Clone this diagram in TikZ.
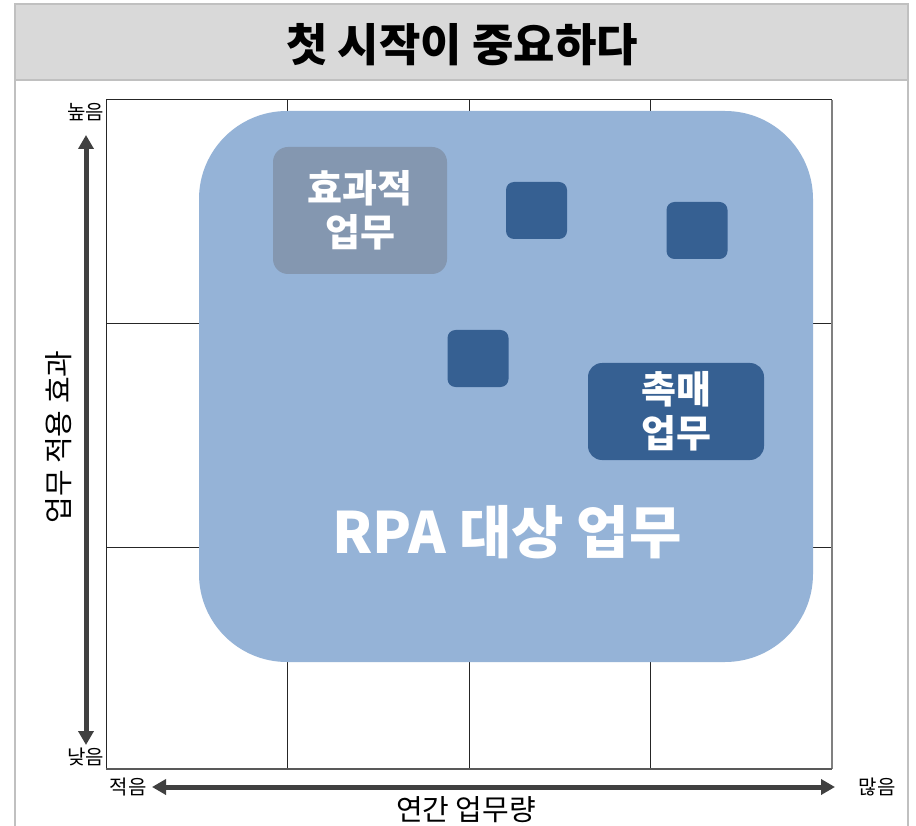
\documentclass[tikz,border=0pt]{standalone}
\usepackage{fontspec}
\setmainfont{Noto Sans CJK KR}
\usetikzlibrary{arrows.meta}
\definecolor{blobc}{HTML}{95B3D7}
\definecolor{darkc}{HTML}{366092}
\definecolor{slatec}{HTML}{8497B0}
\definecolor{titlebg}{HTML}{D9D9D9}
\definecolor{framec}{HTML}{C0C0C0}
\definecolor{arrowc}{HTML}{404040}
\definecolor{gridc}{HTML}{262626}
\begin{document}
\begin{tikzpicture}[x=1pt,y=-1pt,
  gridline/.style={gridc, line width=0.9pt},
  sq/.style={fill=darkc, rounded corners=8pt, minimum width=61pt, minimum height=57pt, inner sep=0pt},
  labelbox/.style={rounded corners=15pt, inner sep=0pt, text=white, align=center,
    font=\bfseries\fontsize{38}{44}\selectfont},
  small/.style={font=\fontsize{20}{22}\selectfont, inner sep=0pt},
  axisarrow/.style={arrowc, line width=5pt, {Triangle[width=15pt,length=14pt]}-{Triangle[width=15pt,length=14pt]}}
]
\useasboundingbox (0,0) rectangle (916,826);
\fill[white] (0,0) rectangle (916,826);
% frame and title bar
\fill[titlebg] (15,4) rectangle (908,80);
\draw[framec, line width=2pt] (15,840) -- (15,4) -- (908,4) -- (908,840);
\draw[framec, line width=2pt] (15,80) -- (908,80);
\node[font=\bfseries\fontsize{45}{52}\selectfont, inner sep=0pt] (title) at (462,45) {첫 시작이 중요하다};
% grid
\foreach \x in {287,469,650} \draw[gridline] (\x,100) -- (\x,769);
\foreach \y in {323,547} \draw[gridline] (106,\y) -- (832,\y);
\draw[gridc, line width=1pt] (106,769) -- (106,100) -- (832,100);
\draw[black!50, line width=1.6pt] (832,100) -- (832,769);
\draw[black!65, line width=1.2pt] (106,769) -- (832,769);
% main blob
\node[fill=blobc, rounded corners=88pt, minimum width=614pt, minimum height=551pt, inner sep=0pt] (rpa) at (506,386.5) {};
\node[text=white, font=\bfseries\fontsize{57}{64}\selectfont, inner sep=0pt] (rpatext) at (507,532) {RPA 대상 업무};
% boxes
\node[labelbox, fill=slatec, minimum width=174pt, minimum height=127pt] (eff) at (360,210.5) {효과적\\업무};
\node[labelbox, fill=darkc, rounded corners=14pt, minimum width=176pt, minimum height=97pt] (cat) at (676,411.5) {촉매\\업무};
\node[sq] (sq1) at (536.5,210.5) {};
\node[sq] (sq2) at (697,230.5) {};
\node[sq] (sq3) at (478,358.5) {};
% axes
\coordinate (vtop) at (86,135);
\coordinate (vbot) at (86,745);
\coordinate (hleft) at (152,787);
\coordinate (hright) at (835,787);
\draw[axisarrow] (vtop) -- (vbot);
\draw[axisarrow] (hleft) -- (hright);
\node[small, anchor=east] (high) at (104,112) {높음};
\node[small, anchor=east] (low) at (104,757) {낮음};
\node[small] (few) at (128,787) {적음};
\node[small] (many) at (877,787) {많음};
\node[font=\fontsize{29}{34}\selectfont, inner sep=0pt] (xlabel) at (466,810) {연간 업무량};
\node[font=\fontsize{29}{34}\selectfont, inner sep=0pt, rotate=90] (ylabel) at (59,437) {업무 적용 효과};
\end{tikzpicture}
\end{document}
